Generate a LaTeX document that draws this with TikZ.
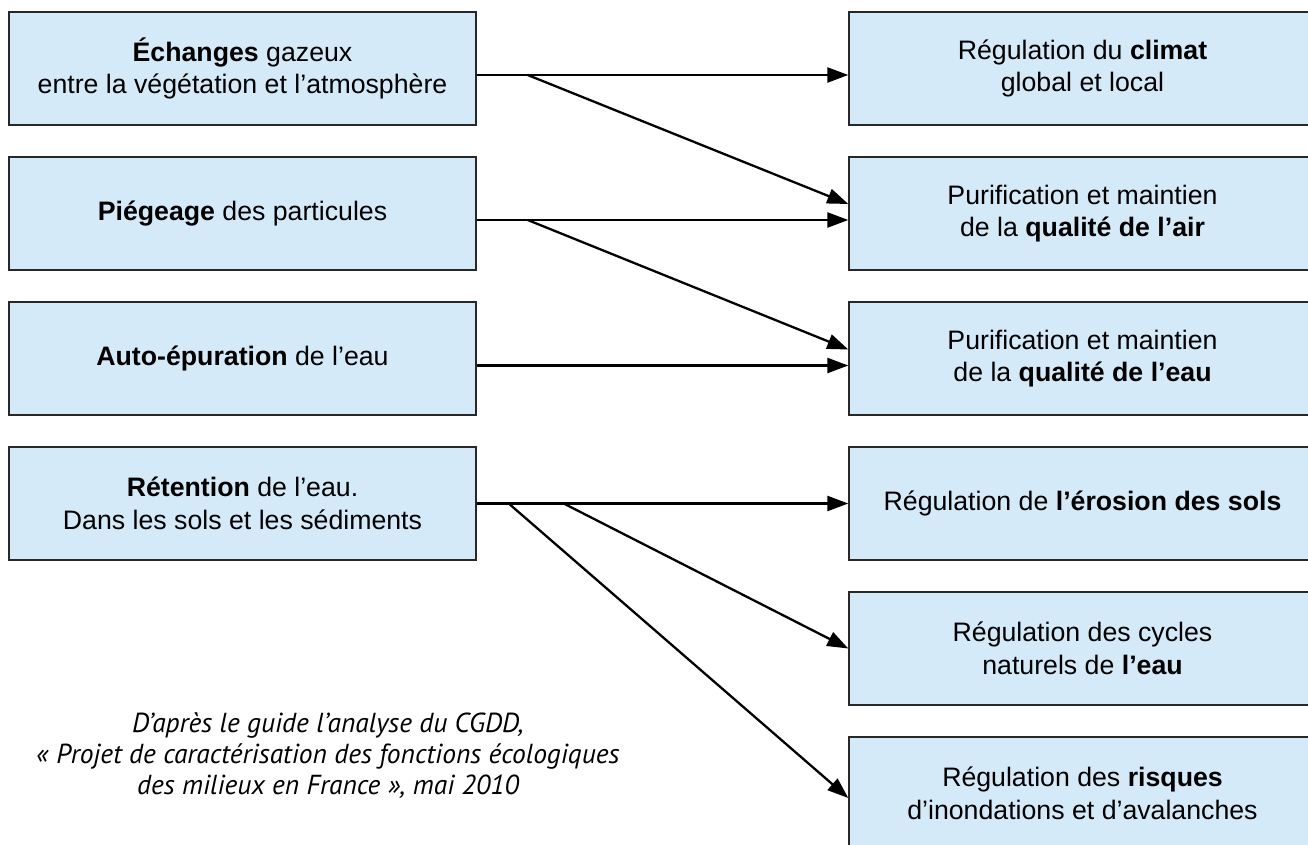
\documentclass[tikz,border=0pt]{standalone}
\usepackage{fontspec}
\setmainfont{Liberation Sans}
\newfontfamily\notefont{PT Sans}
\usetikzlibrary{arrows.meta}
\definecolor{boxBlue}{RGB}{213,234,248}
\definecolor{boxLine}{RGB}{40,40,40}
\tikzstyle{fFunction} = [rectangle, minimum width=467pt, minimum height=113pt, text centered, align=center, draw=boxLine, line width=1.4pt, fill=boxBlue, font=\fontsize{26.7}{32.7}\selectfont]
\tikzstyle{fService} = [fFunction]
\tikzstyle{fArrow} = [line width=2.3pt, -{Triangle[length=21pt,width=15pt]}]
\tikzstyle{fNote} = [align=center, font=\notefont\itshape\fontsize{27.5}{31}\selectfont]

\begin{document}
\begin{tikzpicture}[x=1pt, y=-1pt, node distance=145pt]
    \useasboundingbox (0,0) rectangle (1308,845);
    \clip (0,0) rectangle (1308,845);
    \fill [white] (0,0) rectangle (1308,845);

    \node (echanges) [fFunction] at (242.5,68.5) {\textbf{Échanges} gazeux\\entre la végétation et l’atmosphère};
    \node (piegeage) [fFunction, below of=echanges] {\textbf{Piégeage} des particules};
    \node (epuration) [fFunction, below of=piegeage] {\textbf{Auto-épuration} de l’eau};
    \node (retention) [fFunction, below of=epuration] {\textbf{Rétention} de l’eau.\\Dans les sols et les sédiments};

    \node (climat) [fService, right of=echanges, xshift=695pt] {Régulation du \textbf{climat}\\global et local};
    \node (air) [fService, below of=climat] {Purification et maintien\\de la \textbf{qualité de l’air}};
    \node (eau) [fService, below of=air] {Purification et maintien\\de la \textbf{qualité de l’eau}};
    \node (erosion) [fService, below of=eau] {Régulation de \textbf{l’érosion des sols}};
    \node (cycles) [fService, below of=erosion] {Régulation des cycles\\naturels de \textbf{l’eau}};
    \node (risques) [fService, below of=cycles] {Régulation des \textbf{risques}\\d’inondations et d’avalanches};

    \node (source) [fNote] at (328,756) {D’après le guide l’analyse du CGDD,\\« Projet de caractérisation des fonctions écologiques\\des milieux en France », mai 2010};

    \coordinate (split1) at ([xshift=51pt, yshift=-6.5pt]echanges.east);
    \coordinate (split2) at ([xshift=51pt, yshift=-6.5pt]piegeage.east);
    \coordinate (split3) at ([xshift=87pt]retention.east);
    \coordinate (split4) at ([xshift=32pt]retention.east);

    \draw [fArrow] ([yshift=-6.5pt]echanges.east) -- ([yshift=-6.5pt]climat.west);
    \draw [fArrow] (split1) -- ([yshift=9.5pt]air.west);
    \draw [fArrow] ([yshift=-6.5pt]piegeage.east) -- ([yshift=-6.5pt]air.west);
    \draw [fArrow] (split2) -- ([yshift=9pt]eau.west);
    \draw [fArrow] ([yshift=-7pt]epuration.east) -- ([yshift=-7pt]eau.west);
    \draw [fArrow] (retention.east) -- (erosion.west);
    \draw [fArrow] (split3) -- (cycles.west);
    \draw [fArrow] (split4) -- ([yshift=-4.5pt]risques.west);
\end{tikzpicture}
\end{document}
